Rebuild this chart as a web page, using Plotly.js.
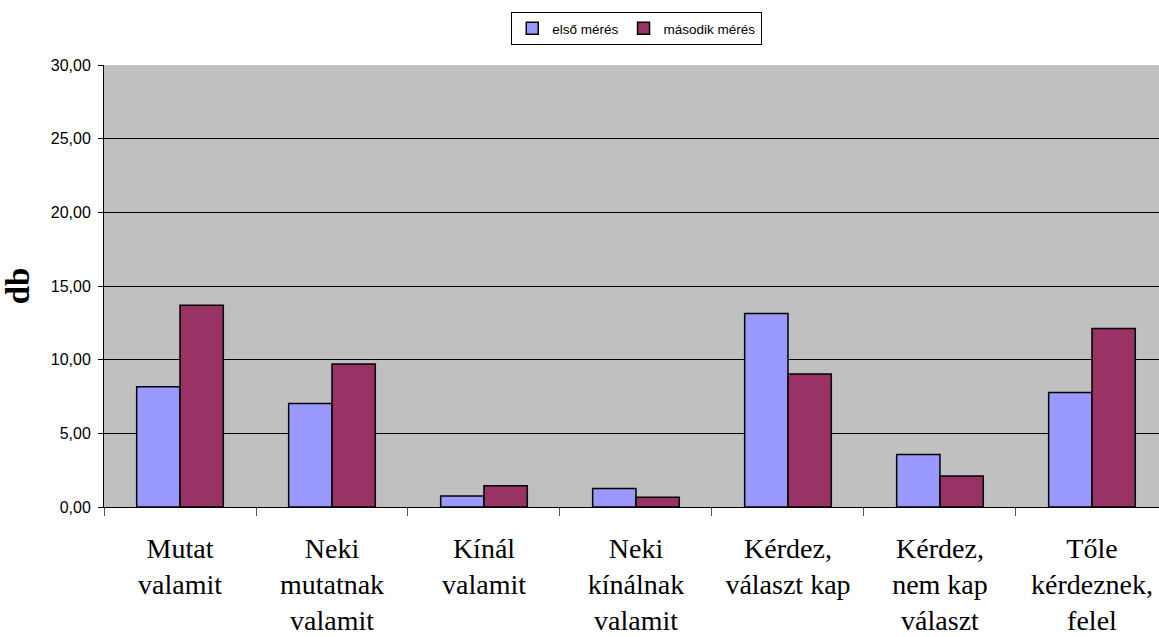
<!DOCTYPE html>
<html>
<head>
<meta charset="utf-8">
<script src="https://cdn.plot.ly/plotly-3.0.1.min.js"></script>
<style>html,body{margin:0;padding:0;background:#fff;}#chart{width:1159px;height:637px;}</style>
</head>
<body>
<div id="chart"></div>
<script>
const categories = [
  "Mutat<br>valamit",
  "Neki<br>mutatnak<br>valamit",
  "Kínál<br>valamit",
  "Neki<br>kínálnak<br>valamit",
  "Kérdez,<br>választ kap",
  "Kérdez,<br>nem kap<br>választ",
  "Tőle<br>kérdeznek,<br>felel"
];
const seriesNames = ["első mérés", "második mérés"];
const elsoMeres = [8.17, 7.02, 0.75, 1.25, 13.13, 3.56, 7.77];
const masodikMeres = [13.69, 9.71, 1.45, 0.66, 9.03, 2.10, 12.11];
const yTicks = [0, 5, 10, 15, 20, 25, 30];

const serif = "'Liberation Serif', 'Times New Roman', serif";
const sans = "'Liberation Sans', Arial, sans-serif";

const traces = [
  {type: "bar", name: seriesNames[0], x: categories, y: elsoMeres,
   marker: {color: "#9999FF", line: {color: "#000000", width: 1.5}}},
  {type: "bar", name: seriesNames[1], x: categories, y: masodikMeres,
   marker: {color: "#993366", line: {color: "#000000", width: 1.5}}}
];

const layout = {
  width: 1159, height: 637,
  margin: {l: 104, r: 0, t: 65, b: 130, pad: 0},
  paper_bgcolor: "#FFFFFF",
  plot_bgcolor: "#C0C0C0",
  separators: ",.",
  barmode: "group",
  bargap: 0.43,
  bargroupgap: 0,
  showlegend: true,
  legend: {
    orientation: "h", x: 0.505, xanchor: "center", y: 1.12, yanchor: "top",
    bgcolor: "#FFFFFF", bordercolor: "#000000", borderwidth: 1,
    font: {family: sans, size: 13.5, color: "#000"},
    itemwidth: 30, traceorder: "normal"
  },
  xaxis: {
    type: "category",
    range: [-0.5, 6.441],
    tickson: "boundaries",
    ticks: "outside", ticklen: 8, tickcolor: "#555555", tickwidth: 1,
    showline: true, linecolor: "#000000", linewidth: 1,
    showgrid: false, zeroline: false,
    tickangle: 0,
    ticklabelstandoff: 16,
    tickfont: {family: serif, size: 28, color: "#000"}
  },
  yaxis: {
    range: [0, 30],
    tickvals: yTicks,
    tickformat: ".2f",
    ticks: "outside", ticklen: 5, tickcolor: "#000000", tickwidth: 1,
    showline: true, linecolor: "#000000", linewidth: 1,
    showgrid: true, gridcolor: "#000000", gridwidth: 1,
    zeroline: false,
    ticklabelstandoff: 4,
    tickfont: {family: sans, size: 16, color: "#000"},
    title: {text: "db", standoff: 15,
      font: {family: serif, size: 33, color: "#000", weight: "bold"}}
  }
};

Plotly.newPlot("chart", traces, layout, {displayModeBar: false, staticPlot: true});
</script>
</body>
</html>
